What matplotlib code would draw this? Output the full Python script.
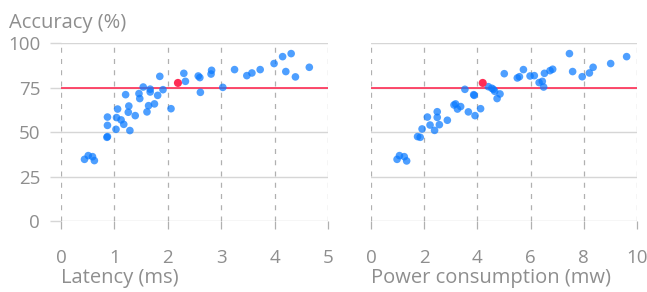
import matplotlib.pyplot as plt

plt.rcParams['font.family'] = ['Open Sans', 'DejaVu Sans']

# Latency panel
lat_x = [0.44, 0.51, 0.59, 0.625, 0.86, 0.87, 0.87, 0.87, 1.03, 1.04, 1.06, 1.125,
         1.175, 1.21, 1.27, 1.26, 1.29, 1.39, 1.46, 1.475, 1.54, 1.61, 1.64, 1.67,
         1.67, 1.75, 1.81, 1.85, 1.91, 2.06, 2.30, 2.33, 2.57, 2.60, 2.61, 2.81,
         2.82, 3.03, 3.25, 3.48, 3.575, 3.73, 3.99, 4.15, 4.31, 4.21, 4.39, 4.65]
lat_y = [34.7, 36.8, 36.2, 34.0, 47.1, 47.5, 53.8, 58.5, 51.6, 58.2, 63.0, 56.9,
         54.4, 71.1, 64.7, 61.2, 50.9, 59.3, 71.7, 68.9, 75.4, 61.4, 64.9, 74.2,
         72.6, 65.9, 70.7, 81.4, 73.9, 63.2, 83.1, 78.6, 81.6, 80.7, 72.4, 82.7,
         84.8, 75.2, 85.2, 81.8, 83.3, 85.2, 88.6, 92.5, 94.2, 84.1, 81.1, 86.5]
lat_best = (2.19, 77.7)

# Power panel
pow_x = [0.98, 1.07, 1.25, 1.34, 1.75, 1.85, 1.92, 2.12, 2.22, 2.39, 2.49, 2.49,
         2.57, 2.87, 3.12, 3.18, 3.25, 3.37, 3.53, 3.66, 3.86, 3.88, 3.91, 4.12,
         4.41, 4.54, 4.60, 4.65, 4.74, 4.85, 5.01, 5.50, 5.58, 5.73, 5.98, 6.14,
         6.32, 6.44, 6.49, 6.52, 6.73, 6.83, 7.46, 7.58, 7.94, 8.21, 8.35, 9.01, 9.61]
pow_y = [34.7, 36.8, 36.2, 33.8, 47.5, 47.1, 51.8, 58.5, 54.0, 51.0, 61.5, 58.3,
         54.2, 56.7, 65.3, 65.9, 63.0, 64.4, 74.1, 61.4, 71.1, 70.7, 59.3, 63.2,
         75.6, 74.7, 74.1, 73.0, 68.9, 71.5, 82.9, 80.5, 81.2, 85.2, 81.6, 81.8,
         77.9, 78.6, 75.4, 83.1, 84.6, 85.4, 94.2, 84.1, 81.2, 83.3, 86.5, 88.6, 92.5]
pow_best = (4.20, 77.7)

target = 75
y_ticks = [0, 25, 50, 75, 100]

blue = '#0a7aff'
red = '#ff2d55'
txt = '#8e8e8e'
fs = 14

fig = plt.figure(figsize=(6.47, 2.92), dpi=100)
ax1 = fig.add_axes([61/647, 71/292, 267/647, 177.7/292])
ax2 = fig.add_axes([371/647, 71/292, 266/647, 177.7/292])

panels = [
    (ax1, lat_x, lat_y, lat_best, 5, [0, 1, 2, 3, 4, 5], 'Latency (ms)'),
    (ax2, pow_x, pow_y, pow_best, 10, [0, 2, 4, 6, 8, 10], 'Power consumption (mw)'),
]

for ax, xs, ys, best, xmax, xt, xlab in panels:
    ax.set_xlim(0, xmax)
    ax.set_ylim(0, 100)
    for s in ax.spines.values():
        s.set_visible(False)
    for v in y_ticks:
        ax.axhline(v, color='#d6d6d6', lw=1, zorder=1)
    for v in xt:
        ax.axvline(v, color='#b0b0b0', lw=0.9, ls=(0, (4, 5)), zorder=1)
    ax.axhline(target, color=red, lw=1.2, zorder=2)
    ax.scatter(xs, ys, s=30, color=blue, alpha=0.72, edgecolors='none', zorder=3)
    ax.scatter([best[0]], [best[1]], s=34, color=red, edgecolors='none', zorder=4)
    ax.set_xticks(xt)
    ax.set_yticks(y_ticks)
    ax.tick_params(axis='x', length=6, color='#b0b0b0', width=0.9, pad=14.5,
                   labelsize=fs - 0.5, labelcolor=txt)
    ax.set_xlabel(xlab, loc='left', fontsize=fs + 0.5, color=txt, labelpad=0.5)

ax1.tick_params(axis='y', length=8, color='#d6d6d6', width=1, pad=7,
                labelsize=fs - 0.5, labelcolor=txt)
ax2.tick_params(axis='y', length=0, labelleft=False)

fig.text(9/647, 1 - 28/292, 'Accuracy (%)', fontsize=fs + 0.5, color=txt,
         ha='left', va='baseline')

plt.savefig('out.png', dpi=100)
